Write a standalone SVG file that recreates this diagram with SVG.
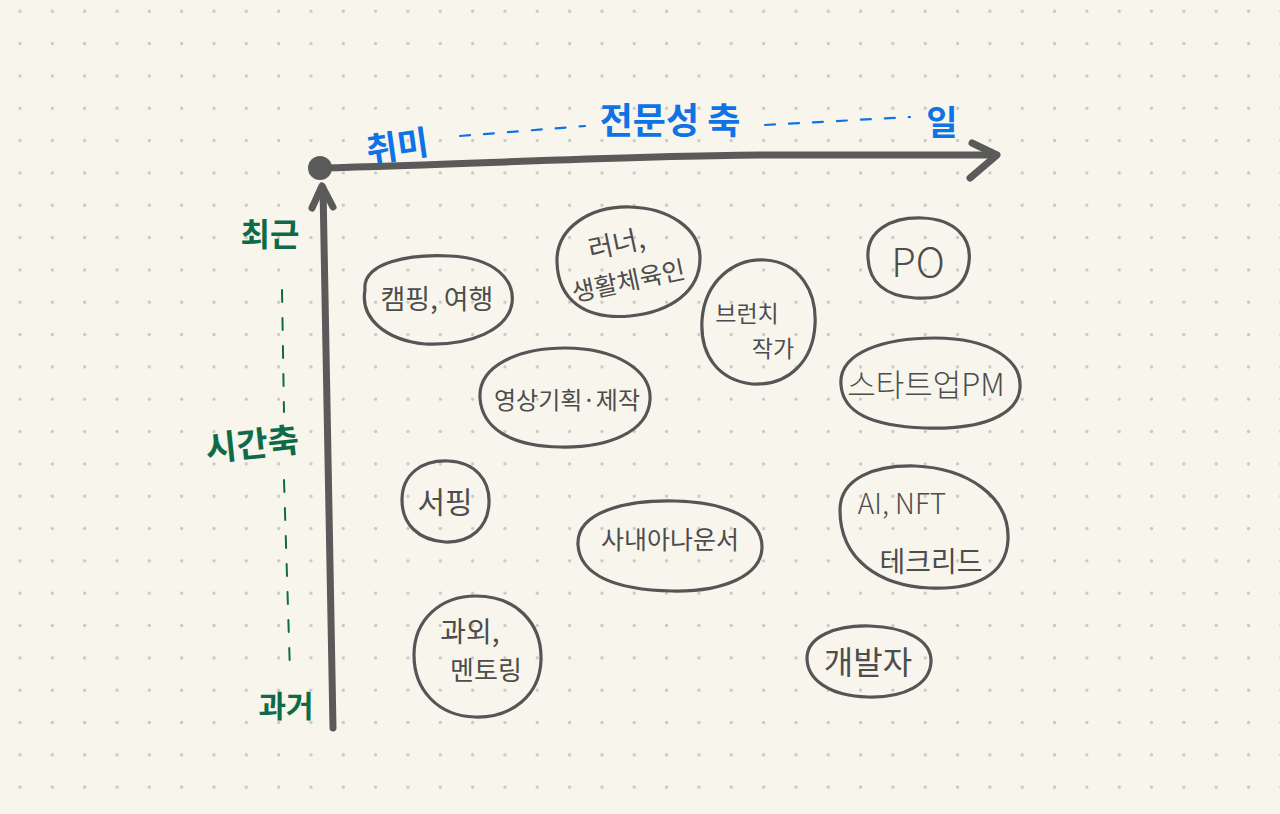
<svg xmlns="http://www.w3.org/2000/svg" width="1280" height="814" viewBox="0 0 1280 814">
<defs>
<pattern id="dots" patternUnits="userSpaceOnUse" x="3.83" y="-4.9" width="32.33" height="32.33">
<circle cx="16.17" cy="16.17" r="1.6" fill="#c9c7bf"/>
</pattern>
<style>
.blob{fill:none;stroke:#555555;stroke-width:3.2;stroke-linecap:round;stroke-linejoin:round}
.t{font-family:"Noto Sans CJK KR","Noto Sans",sans-serif;fill:#4d4d4d;text-anchor:middle;dominant-baseline:central}
.g{font-family:"Noto Sans CJK KR",sans-serif;fill:#0f6a48;font-weight:700;text-anchor:middle;dominant-baseline:central}
.b{font-family:"Noto Sans CJK KR",sans-serif;fill:#0f72e5;font-weight:700;text-anchor:middle;dominant-baseline:central}
.axis{fill:none;stroke:#5a5a5a;stroke-width:7;stroke-linecap:round;stroke-linejoin:round}
</style>
</defs>
<rect width="1280" height="814" fill="#f8f6ec"/>
<rect width="1280" height="814" fill="url(#dots)"/>

<g id="connectors">
<path class="axis" d="M320 168 C 480 164, 620 156, 760 155 L 995 155"/>
<path class="axis" d="M972 143 L 997 155 L 970 178"/>
<path class="axis" d="M333 728 C 330 560, 325 380, 323 188"/>
<path class="axis" d="M312 208 L 322 186 L 333 207"/>
<circle cx="320" cy="168" r="12" fill="#5a5a5a"/>
<path d="M282 290 L 284 412 M 284 480 L 290 672" fill="none" stroke="#0f6a48" stroke-width="2" stroke-dasharray="12 16" stroke-linecap="round"/>
<path d="M460 136 L 585 126 M 765 125 L 910 117" fill="none" stroke="#0f72e5" stroke-width="2.2" stroke-dasharray="10 14" stroke-linecap="round"/>
</g>

<g id="axis-labels">
<text class="b" x="397" y="144" font-size="34" transform="rotate(-8 397 144)">취미</text>
<text class="b" x="670" y="118" font-size="36">전문성 축</text>
<text class="b" x="942" y="120" font-size="34">일</text>
<text class="g" x="270" y="232" font-size="32">최근</text>
<text class="g" x="252" y="442" font-size="34" transform="rotate(-6 252 442)">시간축</text>
<text class="g" x="286" y="704" font-size="30">과거</text>
</g>

<g id="node-camping">
<path class="blob" d="M365 290 C 362 262, 410 254, 450 256 C 495 258, 515 280, 512 303 C 508 330, 470 346, 425 344 C 385 340, 360 318, 365 290 Z"/>
<text class="t" x="437" y="297" font-size="27">캠핑, 여행</text>
</g>

<g id="node-runner">
<path class="blob" d="M557 262 C 556 228, 590 206, 630 207 C 668 208, 700 228, 700 258 C 700 292, 670 312, 630 316 C 585 320, 558 300, 557 262 Z"/>
<text class="t" x="616" y="242" font-size="27" transform="rotate(-12 616 242)">러너,</text>
<text class="t" x="628" y="279" font-size="25" transform="rotate(-12 628 279)">생활체육인</text>
</g>

<g id="node-brunch">
<path class="blob" d="M702 320 C 705 280, 735 258, 765 260 C 800 262, 817 292, 815 325 C 813 360, 790 386, 752 384 C 718 380, 700 355, 702 320 Z"/>
<text class="t" x="747" y="312" font-size="23">브런치</text>
<text class="t" x="773" y="347" font-size="23">작가</text>
</g>

<g id="node-po">
<path class="blob" d="M868 258 C 866 230, 892 217, 922 218 C 955 219, 972 238, 969 262 C 966 288, 945 300, 915 298 C 885 296, 869 282, 868 258 Z"/>
<text class="t" x="918" y="260" font-size="40" font-weight="300">PO</text>
</g>

<g id="node-video">
<path class="blob" d="M480 398 C 478 365, 520 348, 565 348 C 615 348, 652 370, 650 400 C 648 432, 608 448, 560 447 C 510 446, 482 428, 480 398 Z"/>
<text class="t" x="567" y="398" font-size="24">영상기획·제작</text>
</g>

<g id="node-pm">
<path class="blob" d="M841 385 C 838 352, 885 338, 935 338 C 990 338, 1022 360, 1020 388 C 1018 416, 980 430, 925 428 C 870 426, 843 412, 841 385 Z"/>
<text class="t" x="926" y="382" font-size="31" font-weight="300">스타트업PM</text>
</g>

<g id="node-surfing">
<path class="blob" d="M402 500 C 402 474, 422 460, 448 461 C 475 462, 490 480, 489 503 C 488 528, 470 543, 445 542 C 418 540, 402 524, 402 500 Z"/>
<text class="t" x="445" y="500" font-size="30">서핑</text>
</g>

<g id="node-announcer">
<path class="blob" d="M578 545 C 576 512, 625 500, 675 501 C 725 502, 763 518, 762 548 C 761 575, 725 592, 672 591 C 615 590, 580 575, 578 545 Z"/>
<text class="t" x="670" y="538" font-size="25">사내아나운서</text>
</g>

<g id="node-ai">
<path class="blob" d="M840 510 C 840 478, 875 465, 915 466 C 965 468, 1010 495, 1008 540 C 1006 575, 975 590, 930 588 C 880 586, 840 560, 840 510 Z"/>
<text class="t" x="902" y="502" font-size="28" font-weight="300">AI, NFT</text>
<text class="t" x="931" y="560" font-size="28">테크리드</text>
</g>

<g id="node-tutor">
<path class="blob" d="M414 655 C 414 620, 440 596, 476 596 C 515 596, 542 622, 541 660 C 540 695, 512 718, 475 717 C 438 716, 414 690, 414 655 Z"/>
<text class="t" x="470" y="630" font-size="28">과외,</text>
<text class="t" x="486" y="668" font-size="26">멘토링</text>
</g>

<g id="node-dev">
<path class="blob" d="M807 658 C 807 637, 835 625, 870 626 C 905 627, 932 640, 931 662 C 930 684, 905 698, 868 697 C 830 696, 807 680, 807 658 Z"/>
<text class="t" x="868" y="660" font-size="32">개발자</text>
</g>
</svg>
